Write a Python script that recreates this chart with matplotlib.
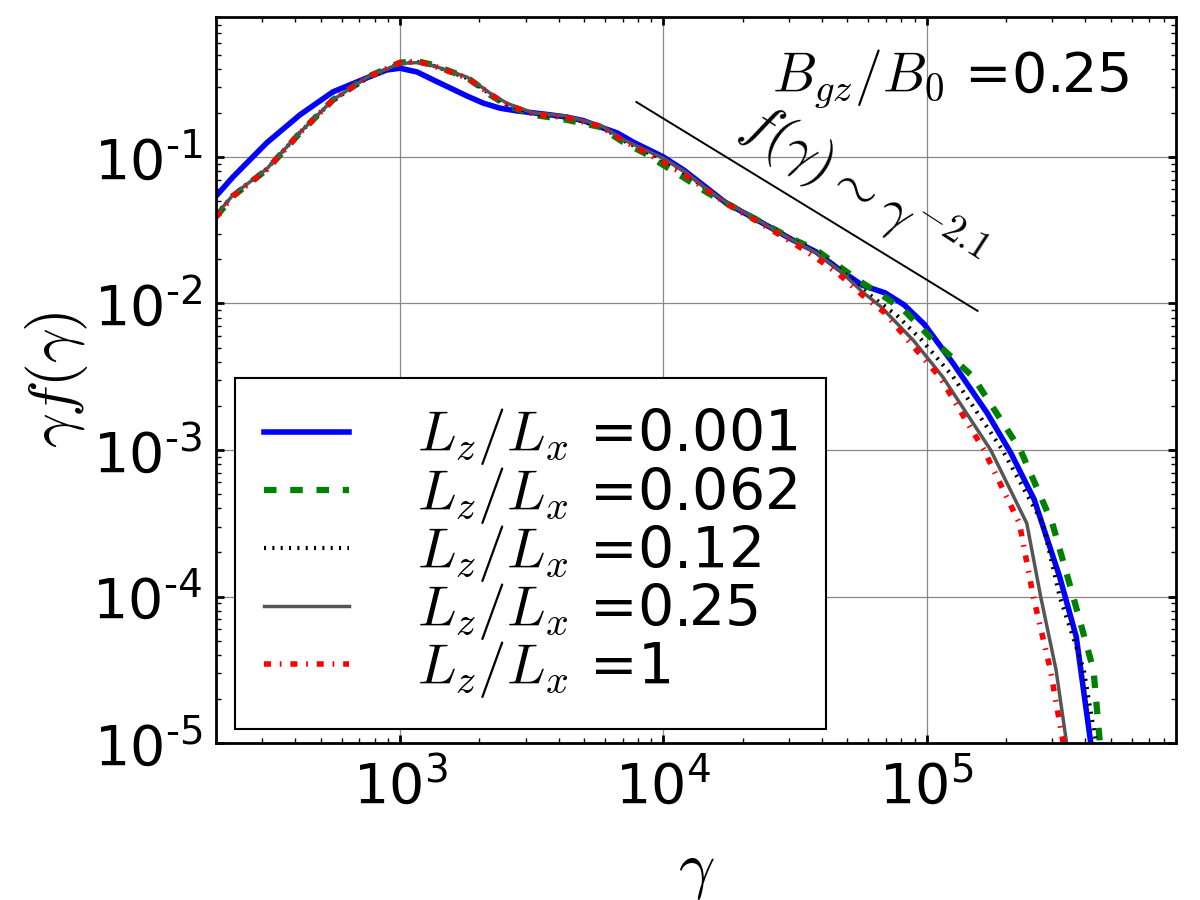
import numpy as np
import matplotlib
matplotlib.use("Agg")
from matplotlib import pyplot as plt
from matplotlib.ticker import FuncFormatter, NullFormatter, LogLocator

plt.rcParams['mathtext.fontset'] = 'cm'
plt.rcParams['font.family'] = 'DejaVu Sans'

# spectra gamma*f(gamma), one per Lz/Lx
x_b = [200, 232, 312, 417, 556, 750, 890, 1000, 1160, 1335, 1800, 2070, 2400, 2780, 3200, 3700, 4300, 4970, 5760, 6670, 7700,
       1.0e4, 1.2e4, 1.47e4, 1.73e4, 2.2e4, 3.1e4, 3.8e4, 4.67e4, 5.7e4, 6.96e4, 8.2e4, 9.8e4,
       1.26e5, 1.7e5, 2.09e5, 2.56e5, 3.2e5, 3.7e5, 4.2e5]
y_b = [0.054, 0.073, 0.125, 0.194, 0.278, 0.347, 0.392, 0.403, 0.38, 0.336, 0.26, 0.233, 0.215, 0.206, 0.2, 0.194, 0.187, 0.177, 0.16, 0.146, 0.126,
       0.1, 0.081, 0.061, 0.0485, 0.0383, 0.0271, 0.0225, 0.017, 0.0133, 0.0118, 0.0098, 0.0072,
       0.0039, 0.00178, 9.5e-4, 4.6e-4, 1.36e-4, 5.3e-5, 1.0e-5]

x_g = [200, 232, 312, 417, 556, 750, 1000, 1160, 1335, 1800, 2070, 2200, 2550, 3200, 4300, 5760, 7000, 8500,
       1.0e4, 1.2e4, 1.47e4, 1.73e4, 2.2e4, 3.1e4, 3.8e4, 4.67e4, 5.7e4, 6.96e4, 8.2e4, 1.06e5,
       1.5e5, 2.27e5, 3.0e5, 3.6e5, 4.3e5, 4.55e5]
y_g = [0.039, 0.054, 0.082, 0.146, 0.245, 0.35, 0.44, 0.45, 0.425, 0.347, 0.29, 0.265, 0.225, 0.194, 0.179, 0.16, 0.127, 0.106,
       0.088, 0.072, 0.057, 0.0485, 0.0383, 0.0275, 0.0232, 0.0178, 0.0138, 0.011, 0.009, 0.0056,
       0.00316, 1.0e-3, 3.16e-4, 1.0e-4, 3.16e-5, 1.0e-5]

x_k = [200, 232, 312, 417, 556, 750, 1000, 1160, 1335, 1800, 2070, 2200, 2550, 3200, 4300, 5760, 7000, 8500,
       1.0e4, 1.2e4, 1.47e4, 1.73e4, 2.2e4, 3.1e4, 3.8e4, 4.67e4, 5.7e4, 6.96e4, 7.7e4, 9.6e4,
       1.26e5, 1.94e5, 2.76e5, 3.2e5, 3.95e5, 4.4e5]
y_k = [0.04, 0.055, 0.083, 0.147, 0.243, 0.345, 0.435, 0.445, 0.42, 0.345, 0.29, 0.268, 0.228, 0.197, 0.186, 0.163, 0.13, 0.11,
       0.096, 0.078, 0.06, 0.049, 0.0385, 0.0272, 0.0225, 0.0172, 0.0125, 0.0095, 0.0083, 0.0056,
       0.00316, 1.0e-3, 3.16e-4, 1.0e-4, 3.16e-5, 1.0e-5]

x_s = [200, 232, 312, 417, 556, 750, 1000, 1160, 1335, 1800, 2070, 2200, 2550, 3200, 4300, 5760, 7000, 8500,
       1.0e4, 1.2e4, 1.47e4, 1.73e4, 2.2e4, 3.1e4, 3.8e4, 4.67e4, 5.7e4, 6.7e4, 8.9e4, 1.15e5,
       1.75e5, 2.4e5, 2.71e5, 3.1e5, 3.4e5]
y_s = [0.04, 0.055, 0.083, 0.147, 0.245, 0.35, 0.435, 0.44, 0.42, 0.35, 0.295, 0.272, 0.232, 0.2, 0.19, 0.165, 0.132, 0.112,
       0.098, 0.08, 0.06, 0.049, 0.0385, 0.027, 0.0222, 0.0168, 0.012, 0.0095, 0.0056, 0.00316,
       1.0e-3, 3.16e-4, 1.0e-4, 3.16e-5, 1.0e-5]

x_r = [200, 232, 312, 417, 556, 750, 1000, 1160, 1335, 1800, 2070, 2200, 2550, 3200, 4300, 5760, 7000, 8500,
       1.0e4, 1.2e4, 1.47e4, 1.73e4, 2.2e4, 3.1e4, 3.8e4, 4.67e4, 5.7e4, 6.96e4, 8.5e4, 1.12e5,
       1.65e5, 2.25e5, 2.54e5, 2.95e5, 3.3e5]
y_r = [0.039, 0.054, 0.082, 0.146, 0.245, 0.35, 0.44, 0.45, 0.42, 0.345, 0.29, 0.268, 0.228, 0.196, 0.185, 0.162, 0.13, 0.108,
       0.092, 0.076, 0.059, 0.048, 0.0375, 0.026, 0.0205, 0.0157, 0.0114, 0.0086, 0.0056, 0.00316,
       1.0e-3, 3.16e-4, 1.0e-4, 3.16e-5, 1.0e-5]

ratios = ['0.001', '0.062', '0.12', '0.25', '1']

# reference power law line
pl_x = [7.9e3, 1.56e5]
pl_y = [0.237, 0.0089]

fig = plt.figure(figsize=(12, 9), dpi=100)
fig.subplots_adjust(left=0.18, right=0.98, bottom=0.1744, top=0.981)
ax = fig.add_subplot(111)

ax.plot(x_b, y_b, color='b', lw=4, label=r'$L_z/L_x$ =' + ratios[0])
ax.plot(x_g, y_g, color='g', lw=4.5, dashes=(2.0, 2.2), label=r'$L_z/L_x$ =' + ratios[1])
ax.plot(x_k, y_k, color='k', lw=3, dashes=(0.5, 1.5), label=r'$L_z/L_x$ =' + ratios[2])
ax.plot(x_s, y_s, color='#555555', lw=2.5, label=r'$L_z/L_x$ =' + ratios[3])
ax.plot(x_r, y_r, color='r', lw=4, dashes=(1.25, 1.6, 0.3, 1.6), label=r'$L_z/L_x$ =' + ratios[4])
ax.plot(pl_x, pl_y, color='k', lw=1.4)

ax.set_xscale('log'); ax.set_yscale('log')
ax.set_xlim(200, 8.85e5); ax.set_ylim(1e-5, 0.9)

def expo(v, p):
    e = int(round(np.log10(v)))
    s = str(e).replace('-', '\u2010')
    return r'$\mathregular{10^{%s}}$' % s

fmt = FuncFormatter(expo)
ax.xaxis.set_major_formatter(fmt); ax.yaxis.set_major_formatter(fmt)
ax.xaxis.set_minor_formatter(NullFormatter()); ax.yaxis.set_minor_formatter(NullFormatter())
ax.xaxis.set_major_locator(LogLocator(base=10, numticks=20))
ax.yaxis.set_major_locator(LogLocator(base=10, numticks=20))
ax.xaxis.set_minor_locator(LogLocator(base=10, subs=np.arange(2, 10), numticks=20))
ax.yaxis.set_minor_locator(LogLocator(base=10, subs=np.arange(2, 10), numticks=20))

ax.tick_params(which='both', direction='in', top=True, right=True, labelsize=40)
ax.tick_params(which='major', length=6, width=2)
ax.tick_params(which='minor', length=3.5, width=1)
ax.tick_params(axis='x', which='major', pad=12)
ax.tick_params(axis='y', which='major', pad=10)
for s in ax.spines.values():
    s.set_linewidth(2)
ax.grid(True, which='major', color='#888888', lw=0.9)

ax.set_xlabel(r'$\gamma$', fontsize=46, labelpad=18)
ax.set_ylabel(r'$\gamma f(\gamma)$', fontsize=44, labelpad=2)

ax.text(0.765, 0.915, r'$B_{gz}/B_0$ =0.25', transform=ax.transAxes, fontsize=40,
        ha='center', va='center')
ax.text(0.673, 0.76, r'$f(\gamma) \sim \gamma^{-2.1}$', transform=ax.transAxes, fontsize=40,
        ha='center', va='center', rotation=-33)

leg = ax.legend(loc='lower left', bbox_to_anchor=(0.02, 0.02), borderaxespad=0, fontsize=41,
                handlelength=1.5, handletextpad=1.2, labelspacing=-0.05, borderpad=0.5,
                fancybox=False, framealpha=1, edgecolor='k')
leg.get_frame().set_linewidth(1.5)

plt.savefig('out.png', dpi=100)
